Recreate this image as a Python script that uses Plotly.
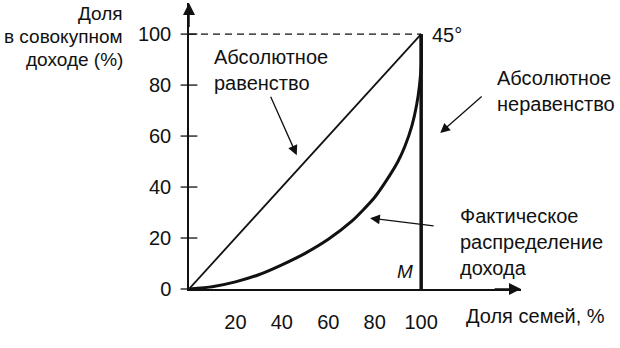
import plotly.graph_objects as go

# Lorenz curve: cumulative share of families vs cumulative share of income (%)
families_share = [0, 10, 20, 30, 40, 50, 60, 70, 75, 80, 85, 90, 93, 96, 98, 99.3, 100, 100]
income_share = [0, 0.9, 2.8, 5.6, 9.5, 14, 19.5, 26.5, 31, 36, 42.5, 50, 56, 64, 72, 80, 88, 100]

# Reference lines
equality_x = [0, 100]
equality_y = [0, 100]
inequality_x = [100, 100]
inequality_y = [0, 100]

y_ticks = [0, 20, 40, 60, 80, 100]
x_ticks = [20, 40, 60, 80, 100]

y_title_lines = ["Доля", "в совокупном", "доходе (%)"]

FONT = "Liberation Sans, Arial, Helvetica, sans-serif"
INK = "#111111"

fig = go.Figure()

# dashed guide at 100%
fig.add_trace(go.Scatter(x=[0, 100], y=[100, 100], mode="lines",
                         line=dict(color=INK, width=1.2, dash="7px,5px"),
                         hoverinfo="skip", cliponaxis=False))
# line of absolute equality
fig.add_trace(go.Scatter(x=equality_x, y=equality_y, mode="lines",
                         line=dict(color=INK, width=1.8),
                         hoverinfo="skip", cliponaxis=False))
# line of absolute inequality
fig.add_trace(go.Scatter(x=inequality_x, y=inequality_y, mode="lines",
                         line=dict(color=INK, width=3.5),
                         hoverinfo="skip", cliponaxis=False))
# actual distribution
fig.add_trace(go.Scatter(x=families_share, y=income_share, mode="lines",
                         line=dict(color=INK, width=3, shape="spline", smoothing=0.6),
                         hoverinfo="skip", cliponaxis=False))
# y tick marks crossing the axis
fig.add_trace(go.Scatter(x=[0] * len(y_ticks), y=y_ticks, mode="markers",
                         marker=dict(symbol="line-ew", size=12,
                                     line=dict(color=INK, width=1.3)),
                         hoverinfo="skip", cliponaxis=False))

X_MAX = 143
Y_MAX = 112.2
PLOT_H = 286  # plot area height in px (348 - 3 - 59)

fig.update_layout(
    width=620, height=348,
    margin=dict(l=189, r=99, t=3, b=59),
    paper_bgcolor="white", plot_bgcolor="white",
    showlegend=False,
    font=dict(family=FONT, size=20, color=INK),
    xaxis=dict(range=[0, X_MAX], showgrid=False, zeroline=False,
               showline=True, linecolor=INK, linewidth=1.5,
               tickmode="array", tickvals=x_ticks, ticks="",
               ticklabelstandoff=14,
               tickfont=dict(family=FONT, size=20, color=INK)),
    yaxis=dict(range=[0, Y_MAX], showgrid=False, zeroline=False,
               showline=True, linecolor=INK, linewidth=1.5,
               tickmode="array", tickvals=y_ticks, ticks="",
               ticklabelstandoff=12,
               tickfont=dict(family=FONT, size=20, color=INK)),
)

# axis arrowheads
fig.add_annotation(x=X_MAX, y=0, ax=X_MAX - 12, ay=0, axref="x", ayref="y",
                   xref="x", yref="y", text="", showarrow=True,
                   arrowhead=2, arrowsize=1.6, arrowwidth=1.5, arrowcolor=INK)
fig.add_annotation(x=0, y=Y_MAX, ax=0, ay=Y_MAX - 10, axref="x", ayref="y",
                   xref="x", yref="y", text="", showarrow=True,
                   arrowhead=2, arrowsize=1.6, arrowwidth=1.5, arrowcolor=INK)

# pointer arrows
pointers = [
    (46.4, 52.5, 34.9, 76.0),    # to the equality line
    (108.2, 61.2, 126.7, 76.0),  # to the inequality line
    (78.0, 27.8, 106.0, 24.7),   # to the actual curve
]
for tx, ty, sx, sy in pointers:
    fig.add_annotation(x=tx, y=ty, ax=sx, ay=sy, axref="x", ayref="y",
                       xref="x", yref="y", text="", showarrow=True,
                       arrowhead=2, arrowsize=1.5, arrowwidth=1.3, arrowcolor=INK)

# labels inside the data area
labels = [
    dict(x=10.0, y=86.0, text="Абсолютное<br>равенство",
         xanchor="left", align="left"),
    dict(x=132.0, y=77.8, text="Абсолютное<br>неравенство",
         xanchor="left", align="left"),
    dict(x=116.0, y=18.4, text="Фактическое<br>распределение<br>дохода",
         xanchor="left", align="left"),
    dict(x=103.7, y=99.6, text="45°", xanchor="left", align="left"),
]
for lab in labels:
    fig.add_annotation(xref="x", yref="y", showarrow=False, yanchor="middle",
                       font=dict(family=FONT, size=20, color=INK), **lab)

# y-axis title, one line per annotation for tighter leading
for i, line in enumerate(y_title_lines):
    top_px = 14 + 22.5 * i - 3
    fig.add_annotation(xref="paper", yref="paper", x=-0.193,
                       y=1 - top_px / PLOT_H,
                       text=line, xanchor="right", yanchor="middle",
                       align="right", showarrow=False,
                       font=dict(family=FONT, size=19, color=INK))

fig.add_annotation(xref="paper", yref="paper", x=0.828, y=-0.094,
                   text="Доля семей, %",
                   xanchor="left", yanchor="middle", align="left", showarrow=False,
                   font=dict(family=FONT, size=20, color=INK))

fig.add_annotation(x=93.1, y=7.0, xref="x", yref="y", showarrow=False,
                   text="<i>M</i>", font=dict(family=FONT, size=19, color=INK))

fig.write_html("out.html")
